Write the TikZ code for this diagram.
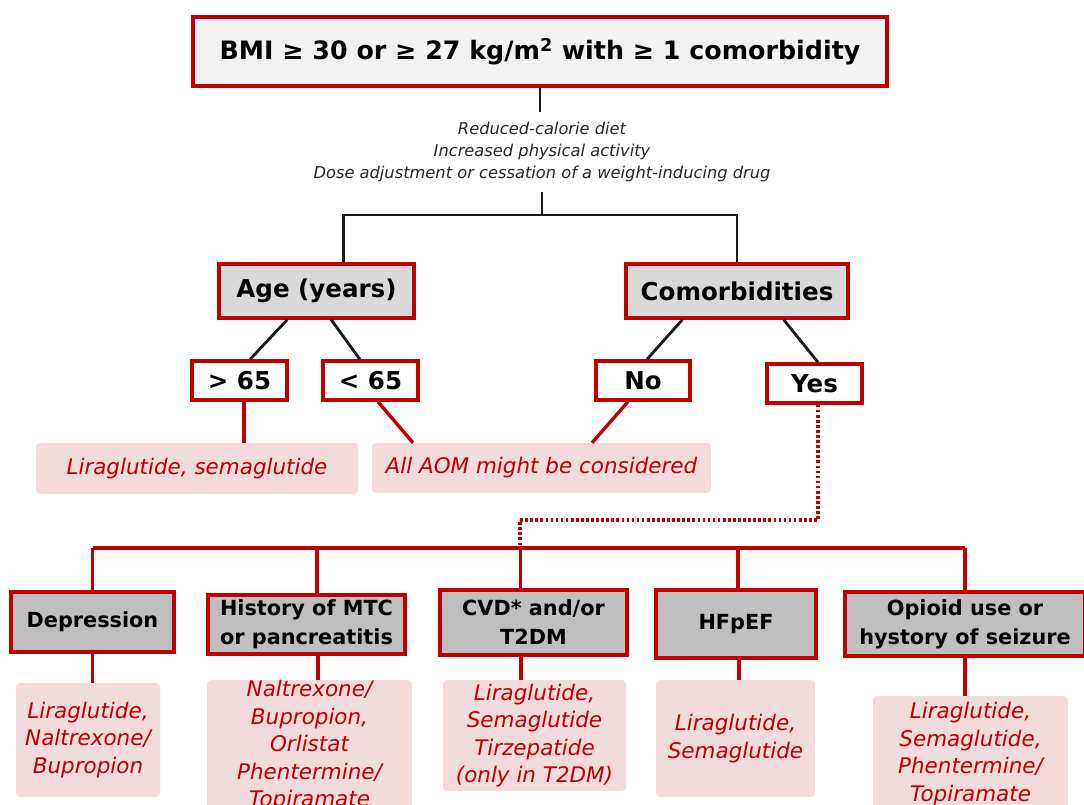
\documentclass[tikz,border=0pt]{standalone}
\usepackage{fontspec}
\setmainfont{DejaVu Sans}
\definecolor{myred}{HTML}{C00000}
\definecolor{mypink}{HTML}{F2DCDB}
\definecolor{lgray}{HTML}{F2F2F2}
\definecolor{mgray}{HTML}{D9D9D9}
\definecolor{dgray}{HTML}{BFBFBF}
\newcommand\pbox[7]{\node[#6, minimum width={(#4-#2)*0.75pt}, minimum height={(#5-#3)*0.75pt}] (#1) at ({(#2+#4)/2},{(#3+#5)/2}) {#7};}
\tikzset{
 rbox/.style={draw=myred, line width=2.6pt, inner sep=0pt, align=center},
 topf/.style={font=\bfseries\fontsize{19}{23}\selectfont},
 midf/.style={font=\bfseries\fontsize{18.4}{22}\selectfont},
 catf/.style={font=\bfseries\fontsize{15.6}{21.75}\selectfont},
 res/.style={fill=mypink, rounded corners=3pt, inner sep=0pt, align=center, text=myred},
 resf/.style={font=\itshape\fontsize{16.1}{20.6}\selectfont},
 blk/.style={draw=black!90, line width=2.1pt},
 rl/.style={draw=myred, line width=2.5pt},
 rdot/.style={draw=myred, line width=2.4pt, dash pattern=on 2pt off 1.8pt}
}
\begin{document}
\begin{tikzpicture}[x=0.75pt,y=-0.75pt]
\useasboundingbox (0,0) rectangle (1084,805);
\clip (0,0) rectangle (1084,805);
% top
\pbox{top}{193}{17}{887}{86}{rbox, fill=lgray, topf}{BMI ≥ 30 or ≥ 27 kg/m\textsuperscript{2} with ≥ 1 comorbidity}
\node[font=\itshape\fontsize{12.2}{16.5}\selectfont, text=black!85, align=center] (intro) at (542,152) {Reduced-calorie diet\\Increased physical activity\\Dose adjustment or cessation of a weight-inducing drug};
\coordinate (introtop) at (540,112);
\coordinate (introbot) at (542,192);
\coordinate (j1) at (542,215);
% second level
\pbox{age}{219}{264}{414}{318}{rbox, fill=mgray, midf}{Age (years)}
\pbox{com}{626}{264}{848}{318}{rbox, fill=mgray, midf}{Comorbidities}
\pbox{gt}{192}{361}{287}{400}{rbox, fill=white, midf}{> 65}
\pbox{lt}{323}{361}{418}{400}{rbox, fill=white, midf}{< 65}
\pbox{no}{596}{361}{690}{400}{rbox, fill=white, midf}{No}
\pbox{yes}{767}{364}{862}{403}{rbox, fill=white, midf}{Yes}
\pbox{r1}{36}{443}{358}{494}{res, resf}{Liraglutide, semaglutide}
\pbox{r2}{372}{443}{711}{493}{res, resf}{All AOM might be considered}
% categories
\pbox{dep}{11}{592}{174}{652}{rbox, fill=dgray, catf}{Depression}
\pbox{hist}{208}{595}{405}{654}{rbox, fill=dgray, catf}{History of MTC\\or pancreatitis}
\pbox{cvd}{440}{590}{627}{655}{rbox, fill=dgray, catf}{CVD* and/or\\T2DM}
\pbox{hf}{656}{590}{816}{658}{rbox, fill=dgray, catf}{HFpEF}
\pbox{opi}{845}{592}{1085}{656}{rbox, fill=dgray, catf}{Opioid use or\\hystory of seizure}
% results
\pbox{d1}{16}{683}{160}{797}{res, resf}{Liraglutide,\\Naltrexone/\\Bupropion}
\pbox{h1}{207}{680}{412}{812}{res, resf}{Naltrexone/\\Bupropion,\\Orlistat\\Phentermine/\\Topiramate}
\pbox{c1}{443}{680}{626}{791}{res, resf}{Liraglutide,\\Semaglutide\\Tirzepatide\\(only in T2DM)}
\pbox{f1}{656}{680}{815}{797}{res, resf}{Liraglutide,\\Semaglutide}
\pbox{o1}{873}{696}{1068}{812}{res, resf}{Liraglutide,\\Semaglutide,\\Phentermine/\\Topiramate}
% black connectors
\draw[blk] (top.south) -- (introtop);
\draw[blk] (introbot) -- (j1);
\draw[blk] ([xshift=20pt]age.north) |- (j1) -| (com.north);
\draw[blk] ([xshift=-22pt]age.south) -- ([xshift=8pt]gt.north);
\draw[blk] ([xshift=11pt]age.south) -- ([xshift=-8pt]lt.north);
\draw[blk] ([xshift=-41pt]com.south) -- ([xshift=3pt]no.north);
\draw[blk] ([xshift=35pt]com.south) -- ([xshift=2.6pt]yes.north);
% red connectors
\draw[rl] ([xshift=3.4pt]gt.south) -- ([xshift=3.4pt]gt.south |- r1.north);
\draw[rl] ([xshift=5.6pt]lt.south) -- ([xshift=-96.4pt]r2.north);
\draw[rl] ([xshift=-11.25pt]no.south) -- ([xshift=37.9pt]r2.north);
\coordinate (dotc) at (520,520);
\coordinate (bus) at (0,548);
\draw[rdot] ([xshift=2.6pt]yes.south) |- (dotc) -- (dotc |- bus);
\draw[rl] (dep.north |- bus) -- (opi.north |- bus);
\draw[rl] (dep.north) -- (dep.north |- bus);
\draw[rl] ([xshift=7.9pt]hist.north) -- ([xshift=7.9pt]hist.north |- bus);
\draw[rl] ([xshift=-10pt]cvd.north) -- ([xshift=-10pt]cvd.north |- bus);
\draw[rl] ([xshift=1.5pt]hf.north) -- ([xshift=1.5pt]hf.north |- bus);
\draw[rl] (opi.north) -- (opi.north |- bus);
\draw[rl] (dep.south) -- (dep.south |- d1.north);
\draw[rl] ([xshift=8.6pt]hist.south) -- ([xshift=8.6pt]hist.south |- h1.north);
\draw[rl] ([xshift=-9.4pt]cvd.south) -- ([xshift=-9.4pt]cvd.south |- c1.north);
\draw[rl] ([xshift=2.2pt]hf.south) -- ([xshift=2.2pt]hf.south |- f1.north);
\draw[rl] (opi.south) -- (opi.south |- o1.north);
\end{tikzpicture}
\end{document}
